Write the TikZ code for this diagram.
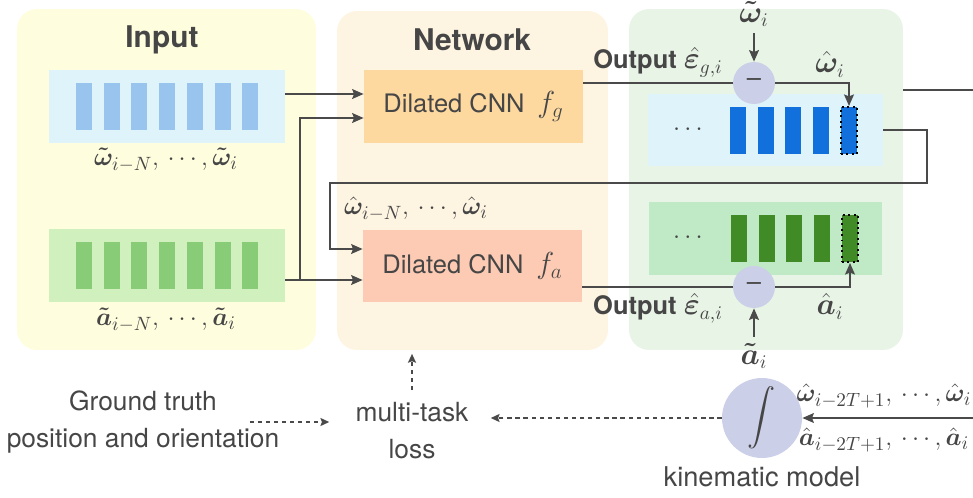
\documentclass[tikz,border=0pt]{standalone}
\usepackage{amsmath, amssymb, bm}
\usepackage[no-math]{fontspec}
\setmainfont{TeX Gyre Heros}
\usetikzlibrary{arrows.meta, positioning, calc}

\definecolor{inkgray}{RGB}{70,70,70}
\definecolor{linegray}{RGB}{74,74,74}
\definecolor{inyellow}{RGB}{254,253,222}
\definecolor{netorange}{RGB}{254,244,226}
\definecolor{outgreen}{RGB}{232,244,230}
\definecolor{stripblue}{RGB}{223,243,250}
\definecolor{stripgreen}{RGB}{208,240,190}
\definecolor{stripdeep}{RGB}{192,234,198}
\definecolor{barlight}{RGB}{152,196,238}
\definecolor{barlgreen}{RGB}{136,204,120}
\definecolor{barblue}{RGB}{17,112,220}
\definecolor{bargreen}{RGB}{64,139,38}
\definecolor{cnnorange}{RGB}{253,217,160}
\definecolor{cnnsalmon}{RGB}{253,203,180}
\definecolor{lavender}{RGB}{203,207,232}

\newcommand{\sq}{\mathord{,}\,}

\begin{document}
\begin{tikzpicture}[x=0.02cm, y=-0.02cm,
    every node/.style={font=\fontsize{14.5}{20}\selectfont, text=inkgray},
    panel/.style={fill=#1, rounded corners=0.4cm, inner sep=0pt},
    title/.style={font=\fontsize{17}{20}\selectfont\bfseries},
    strip/.style={fill=#1, inner sep=0pt},
    cnn/.style={fill=#1, inner sep=0pt, minimum width=4.38cm, minimum height=1.45cm},
    newbar/.style={fill=#1, draw=black, dotted, line width=1.1pt, inner sep=0pt, minimum width=0.32cm, minimum height=0.94cm},
    minus/.style={circle, fill=lavender, inner sep=0pt, minimum size=0.84cm},
    txt/.style={inner sep=0pt, align=center, font=\fontsize{15}{21}\selectfont},
    mlbl/.style={font=\fontsize{16}{20}\selectfont},
    seqlbl/.style={font=\fontsize{15.5}{20}\selectfont},
    arrow/.style={-{Stealth[length=6.5pt, width=5.5pt, inset=1pt]}, line width=1.3pt, draw=linegray},
    wire/.style={line width=1.3pt, draw=linegray},
    dasharrow/.style={-{Stealth[length=5pt, width=4.5pt, inset=0.8pt]}, line width=1.1pt, draw=linegray, dash pattern=on 2.4pt off 2.2pt}
]
    \useasboundingbox (0,0) rectangle (973,497);

    % three panels
    \node[panel=inyellow, minimum width=5.98cm, minimum height=6.82cm] (inpanel) at (166.5,179.5) {};
    \node[panel=netorange, minimum width=5.42cm, minimum height=6.78cm] (netpanel) at (472.5,180.5) {};
    \node[panel=outgreen, minimum width=5.48cm, minimum height=6.82cm] (outpanel) at (766,179.5) {};
    \node[title] (intitle) at (162,40) {Input};
    \node[title] (nettitle) at (472,40) {Network};

    % input sequences
    \node[strip=stripblue, minimum width=4.72cm, minimum height=1.46cm] (inw) at (167,106.5) {};
    \node[strip=stripgreen, minimum width=4.72cm, minimum height=1.46cm] (ina) at (167,265.5) {};
    \foreach \k in {0,...,6} {
        \fill[barlight] ({76+27.7*\k},83) rectangle ++(16,47);
        \fill[barlgreen] ({76+27.7*\k},242) rectangle ++(16,47);
    }
    \node[seqlbl] (inwlbl) at (166,160) {$\bm{\tilde\omega}_{i-N}\sq\cdots\sq\bm{\tilde\omega}_i$};
    \node[seqlbl] (inalbl) at (166,320) {$\bm{\tilde a}_{i-N}\sq\cdots\sq\bm{\tilde a}_i$};

    % networks
    \node[cnn=cnnorange] (fg) at (473.5,106.5) {Dilated CNN\enspace{\fontsize{18}{20}\selectfont$f_g$}};
    \node[cnn=cnnsalmon] (fa) at (472.5,266) {Dilated CNN\enspace{\fontsize{18}{20}\selectfont$f_a$}};

    % output sequences
    \node[strip=stripblue, minimum width=4.7cm, minimum height=1.44cm] (ow) at (765.5,130) {};
    \node[strip=stripdeep, minimum width=4.66cm, minimum height=1.46cm] (oa) at (765.5,238.5) {};
    \node (owdots) at (690,130) {$\cdots$};
    \node (oadots) at (690,238) {$\cdots$};
    \foreach \k in {0,...,3} {
        \fill[barblue] ({730+27.7*\k},107) rectangle ++(16,47);
        \fill[bargreen] ({731+27.7*\k},215) rectangle ++(16,47);
    }
    \node[newbar=barblue] (wnew) at (849,130.5) {};
    \node[newbar=bargreen] (anew) at (850,238.5) {};

    \node[minus] (mg) at (754,83) {--};
    \node[minus] (ma) at (754,287) {--};
    \node[mlbl] (wtl) at (754,14) {$\bm{\tilde\omega}_i$};
    \node[mlbl] (atl) at (754,356) {$\bm{\tilde a}_i$};
    \node (epsg) at (658,62) {\textbf{Output}\ {\fontsize{16}{20}\selectfont$\hat{\bm\varepsilon}_{g,i}$}};
    \node (epsa) at (658,308) {\textbf{Output}\ {\fontsize{16}{20}\selectfont$\hat{\bm\varepsilon}_{a,i}$}};
    \node[mlbl] (whl) at (830,64) {$\hat{\bm\omega}_i$};
    \node[mlbl] (ahl) at (830,306) {$\hat{\bm a}_i$};
    \node[seqlbl] (whseq) at (416,209) {$\hat{\bm\omega}_{i-N}\sq\cdots\sq\hat{\bm\omega}_i$};

    % kinematic model and loss
    \node[minus, minimum size=1.6cm] (kin) at (762,418) {\fontsize{16}{20}\selectfont$\displaystyle\int$};
    \node[seqlbl] (kinw) at (884,396) {$\hat{\bm\omega}_{i-2T+1}\sq\cdots\sq\hat{\bm\omega}_i$};
    \node[seqlbl] (kina) at (884,440) {$\hat{\bm a}_{i-2T+1}\sq\cdots\sq\hat{\bm a}_i$};
    \node[txt, font=\fontsize{15.5}{21}\selectfont] (kinlbl) at (762,477) {kinematic model};
    \node[txt] (loss) at (412,431) {multi-task\\loss};
    \node[txt] (gt) at (143,422) {Ground truth\\position and orientation};

    \coordinate (split) at (300,280);
    \coordinate (loopc) at (330,183);
    \coordinate (wout) at (973,90);
    \coordinate (kinin) at (973,418);

    \draw[arrow] ([yshift=0.25cm]inw.east) -- ([yshift=0.25cm]fg.west);
    \draw[arrow] (ina.east |- split) -- (fa.west |- split);
    \draw[arrow] (split) |- ([yshift=-0.23cm]fg.west);
    \draw[wire] (fg.east |- mg) -- (mg);
    \draw[arrow] (mg) -| (wnew.north);
    \draw[wire] (fa.east |- ma) -- (ma);
    \draw[arrow] (ma) -| (anew.south);
    \draw[arrow] (wtl) -- (mg);
    \draw[arrow] (atl) -- (ma);

    % feedback of the corrected gyroscope
    \draw[arrow] (ow.east) -- ++(44,0) |- (loopc) |- ([yshift=0.34cm]fa.west);
    \draw[wire] (wout -| outpanel.east) -- (wout);
    \draw[arrow] (kinin) -- (kin);

    \draw[dasharrow, shorten >=0.44cm] (kin.west) -- (kin.west -| loss.east);
    \draw[dasharrow] ([xshift=-0.6cm]gt.east) -- ([xshift=-0.52cm]gt.east -| loss.west);
    \draw[dasharrow, shorten <=0.24cm, shorten >=2pt] (loss.north) -- (loss.north |- netpanel.south);
\end{tikzpicture}
\end{document}
